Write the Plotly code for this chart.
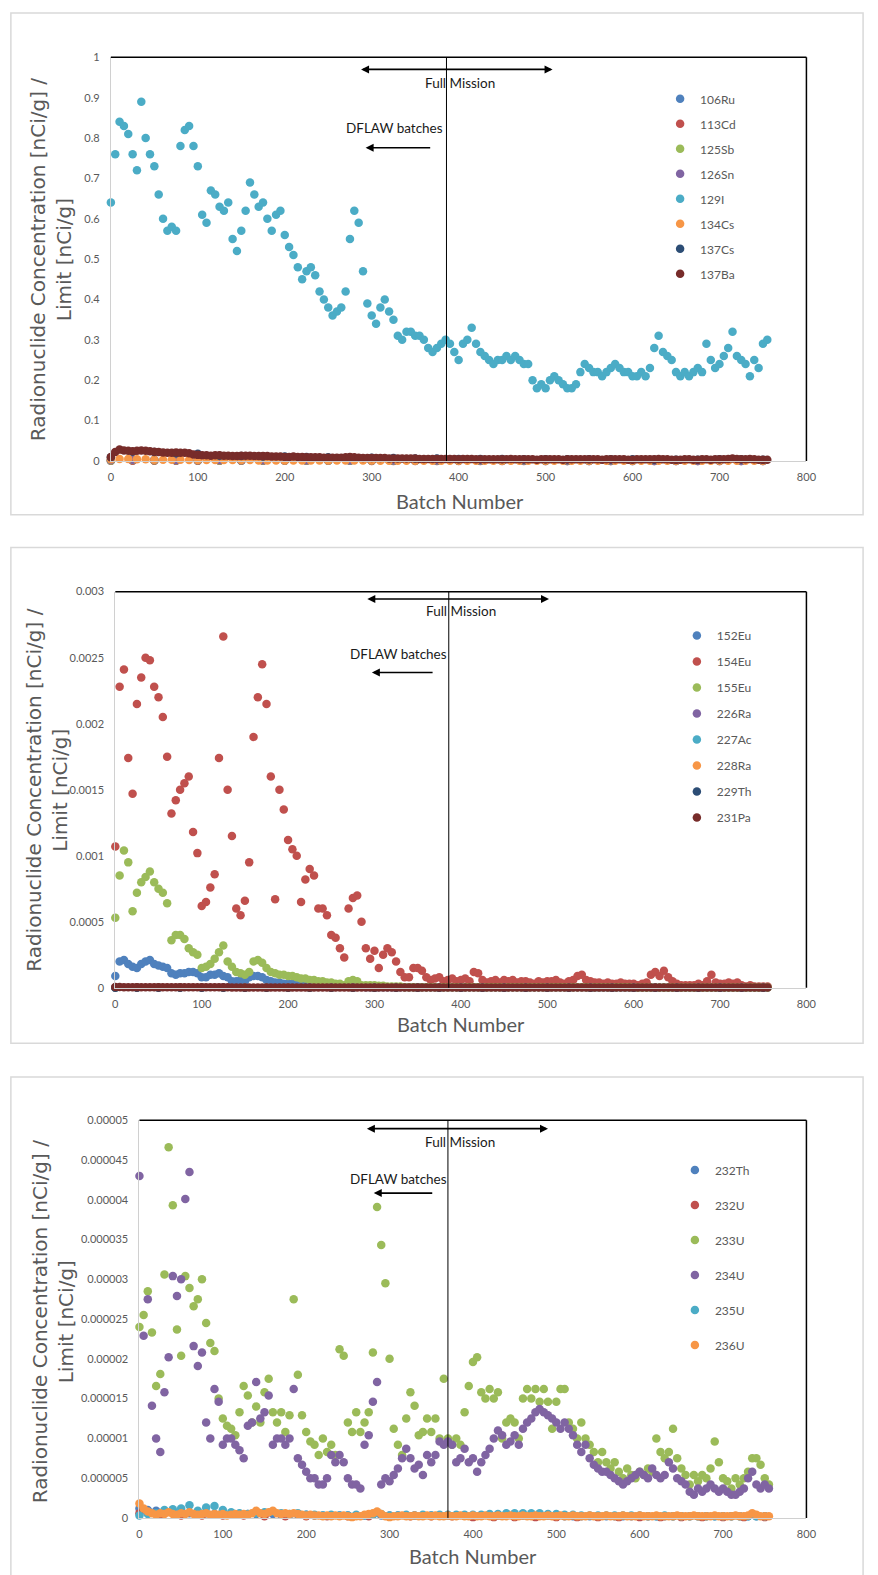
import numpy as np
import plotly.graph_objects as go

W, H = 878, 1575

# ---------------- categories ----------------
BATCH5 = list(range(0, 760, 5))     # 0..755
BATCH10 = list(range(0, 760, 10))   # 0..750
BATCH25 = list(range(0, 760, 25))   # 0..750
X_TICKS = [0, 100, 200, 300, 400, 500, 600, 700, 800]

# ---------------- panel 1 (ratio) ----------------
P1_NAMES = ["106Ru", "113Cd", "125Sb", "126Sn", "129I", "134Cs", "137Cs", "137Ba"]
I129 = [0.64, 0.76, 0.84, 0.83, 0.81, 0.76, 0.72, 0.89, 0.80, 0.76,
        0.73, 0.66, 0.60, 0.57, 0.58, 0.57, 0.78, 0.82, 0.83, 0.78,
        0.73, 0.61, 0.59, 0.67, 0.66, 0.63, 0.62, 0.64, 0.55, 0.52,
        0.57, 0.62, 0.69, 0.66, 0.63, 0.64, 0.60, 0.57, 0.61, 0.62,
        0.56, 0.53, 0.51, 0.48, 0.45, 0.47, 0.48, 0.46, 0.42, 0.40,
        0.38, 0.36, 0.37, 0.38, 0.42, 0.55, 0.62, 0.59, 0.47, 0.39,
        0.36, 0.34, 0.38, 0.40, 0.37, 0.35, 0.31, 0.30, 0.32, 0.32,
        0.31, 0.31, 0.30, 0.28, 0.27, 0.28, 0.29, 0.30, 0.29, 0.27,
        0.25, 0.29, 0.30, 0.33, 0.29, 0.27, 0.26, 0.25, 0.24, 0.25,
        0.25, 0.26, 0.25, 0.26, 0.25, 0.24, 0.24, 0.20, 0.18, 0.19,
        0.18, 0.20, 0.21, 0.20, 0.19, 0.18, 0.18, 0.19, 0.22, 0.24,
        0.23, 0.22, 0.22, 0.21, 0.22, 0.23, 0.24, 0.23, 0.22, 0.22,
        0.21, 0.21, 0.22, 0.21, 0.23, 0.28, 0.31, 0.27, 0.26, 0.25,
        0.22, 0.21, 0.22, 0.21, 0.22, 0.23, 0.22, 0.29, 0.25, 0.23,
        0.24, 0.26, 0.28, 0.32, 0.26, 0.25, 0.24, 0.21, 0.25, 0.23,
        0.29, 0.30]
BA137 = [0.010, 0.022, 0.028, 0.026, 0.025, 0.024, 0.025, 0.026, 0.025, 0.024,
         0.023, 0.022, 0.021, 0.020, 0.020, 0.021, 0.020, 0.020, 0.019, 0.016,
         0.015, 0.014, 0.014, 0.013, 0.014, 0.014, 0.013, 0.013, 0.012, 0.012,
         0.013, 0.013, 0.013, 0.012, 0.012, 0.012, 0.012, 0.011, 0.011, 0.011,
         0.010, 0.010, 0.011, 0.010, 0.010, 0.009, 0.009, 0.009, 0.009, 0.008,
         0.008, 0.008, 0.008, 0.008, 0.009, 0.010, 0.009, 0.008, 0.007, 0.007,
         0.007, 0.007, 0.007, 0.007, 0.006, 0.006, 0.006, 0.006, 0.006, 0.006,
         0.006, 0.005, 0.005, 0.005, 0.005, 0.005, 0.005, 0.005, 0.005, 0.005,
         0.004, 0.005, 0.005, 0.005, 0.004, 0.004, 0.004, 0.004, 0.004, 0.004,
         0.004, 0.004, 0.005, 0.004, 0.004, 0.004, 0.004, 0.004, 0.003, 0.004,
         0.004, 0.004, 0.004, 0.004, 0.003, 0.004, 0.004, 0.004, 0.004, 0.004,
         0.004, 0.004, 0.004, 0.003, 0.004, 0.004, 0.004, 0.004, 0.004, 0.003,
         0.003, 0.004, 0.004, 0.004, 0.004, 0.004, 0.005, 0.004, 0.004, 0.003,
         0.003, 0.003, 0.004, 0.004, 0.003, 0.003, 0.004, 0.004, 0.003, 0.004,
         0.004, 0.004, 0.005, 0.006, 0.005, 0.004, 0.004, 0.005, 0.004, 0.003,
         0.003, 0.003]
CS134 = [0.004, 0.005, 0.005, 0.004, 0.004, 0.003, 0.003, 0.003, 0.003, 0.002,
         0.002, 0.002, 0.002, 0.002, 0.002, 0.002, 0.002, 0.001, 0.001, 0.001,
         0.001, 0.001, 0.001, 0.001, 0.001, 0.001, 0.001, 0.001, 0.001, 0.001,
         0.001, 0.0005, 0.0005, 0.0005, 0.0005, 0.0005, 0.0005, 0.0005, 0.0005, 0.0005,
         0.0005, 0.0005, 0.0005, 0.0005, 0.0005, 0.0005, 0.0005, 0.0005, 0.0005, 0.0005,
         0.0005, 0.0005, 0.0005, 0.0005, 0.0005, 0.0005, 0.0005, 0.0005, 0.0005, 0.0005,
         0.0005, 0.0005, 0.0005, 0.0005, 0.0005, 0.0005, 0.0005, 0.0005, 0.0005, 0.0005,
         0.0005, 0.0005, 0.0005, 0.0005, 0.0005, 0.0005]
RU106 = [0.0006, 0.0009, 0.0008, 0.0007, 0.0006, 0.0005, 0.0005, 0.0004, 0.0004, 0.0004,
         0.0003, 0.0003, 0.0003, 0.0003, 0.0002, 0.0002, 0.0002, 0.0002, 0.0002, 0.0002,
         0.0001, 0.0001, 0.0001, 0.0001, 0.0001, 0.0001, 0.0001, 0.0001, 0.0001, 0.0001, 0.0001]
CD113 = [0.0003, 0.0004, 0.0004, 0.0003, 0.0003, 0.0003, 0.0002, 0.0002, 0.0002, 0.0002,
         0.0002, 0.0002, 0.0001, 0.0001, 0.0001, 0.0001, 0.0001, 0.0001, 0.0001, 0.0001,
         0.0001, 0.0001, 0.0001, 0.0001, 0.0001, 0.0001, 0.0001, 0.0001, 0.0001, 0.0001, 0.0001]
SB125 = [0.0012, 0.0020, 0.0018, 0.0016, 0.0014, 0.0012, 0.0011, 0.0010, 0.0009, 0.0008,
         0.0007, 0.0007, 0.0006, 0.0006, 0.0005, 0.0005, 0.0005, 0.0004, 0.0004, 0.0004,
         0.0004, 0.0003, 0.0003, 0.0003, 0.0003, 0.0003, 0.0003, 0.0003, 0.0003, 0.0003, 0.0003]
SN126 = [0.0020, 0.0030, 0.0028, 0.0025, 0.0022, 0.0020, 0.0018, 0.0016, 0.0015, 0.0014,
         0.0013, 0.0012, 0.0012, 0.0011, 0.0010, 0.0010, 0.0010, 0.0009, 0.0009, 0.0009,
         0.0008, 0.0008, 0.0008, 0.0008, 0.0008, 0.0007, 0.0007, 0.0007, 0.0007, 0.0007, 0.0007]
CS137 = [0.009, 0.023, 0.022, 0.019, 0.018, 0.013, 0.012, 0.011, 0.011, 0.010,
         0.009, 0.008, 0.008, 0.007, 0.006, 0.006, 0.005, 0.005, 0.005, 0.004,
         0.004, 0.004, 0.004, 0.004, 0.004, 0.003, 0.003, 0.003, 0.004, 0.004, 0.003]
P1_TICKS = [0, 0.1, 0.2, 0.3, 0.4, 0.5, 0.6, 0.7, 0.8, 0.9, 1.0]
P1_TICKTEXT = ["0", "0.1", "0.2", "0.3", "0.4", "0.5", "0.6", "0.7", "0.8", "0.9", "1"]

# ---------------- panel 2 (values in units of 1e-4) ----------------
P2_NAMES = ["152Eu", "154Eu", "155Eu", "226Ra", "227Ac", "228Ra", "229Th", "231Pa"]
EU152_E4 = [0.9, 2.0, 2.1, 1.8, 1.6, 1.5, 1.8, 2.0, 2.1, 1.8,
            1.7, 1.6, 1.5, 1.1, 1.0, 1.1, 1.1, 1.2, 1.2, 1.1,
            0.8, 0.8, 1.0, 1.0, 1.1, 0.9, 0.8, 0.5, 0.5, 0.6,
            0.5, 0.8, 0.9, 0.9, 0.8, 0.6, 0.5, 0.4, 0.4, 0.3,
            0.3, 0.3, 0.2, 0.2, 0.2, 0.2, 0.1, 0.1, 0.1, 0.1,
            0.1, 0.1, 0.1, 0.1, 0.1, 0.2, 0.1, 0.1, 0.05, 0.05,
            0.05, 0.05, 0.05, 0.05, 0.05, 0.05, 0.05, 0.05, 0.05, 0.05,
            0.05, 0.05, 0.05, 0.05, 0.05, 0.05, 0.05, 0.05, 0.05, 0.05,
            0.04, 0.04, 0.04, 0.04, 0.04, 0.04, 0.04, 0.04, 0.04, 0.04,
            0.04, 0.04, 0.04, 0.04, 0.04, 0.04, 0.04, 0.04, 0.04, 0.04,
            0.04, 0.04, 0.04, 0.04, 0.04, 0.04, 0.04, 0.04, 0.04, 0.04,
            0.03, 0.03, 0.03, 0.03, 0.03, 0.03, 0.03, 0.03, 0.03, 0.03,
            0.03, 0.03, 0.03, 0.03, 0.03, 0.03, 0.03, 0.03, 0.03, 0.03,
            0.03, 0.03, 0.03, 0.03, 0.03, 0.03, 0.03, 0.03, 0.03, 0.03,
            0.03, 0.03, 0.03, 0.03, 0.03, 0.03, 0.03, 0.03, 0.03, 0.03,
            0.03, 0.03]
EU154_E4 = [10.7, 22.8, 24.1, 17.4, 14.7, 21.5, 23.5, 25.0, 24.8, 22.8,
            22.0, 20.5, 17.5, 13.2, 14.2, 15.0, 15.5, 16.0, 11.8, 10.2,
            6.2, 6.5, 7.6, 8.6, 17.4, 26.6, 15.0, 11.5, 6.0, 5.5,
            6.6, 9.5, 19.0, 22.0, 24.5, 21.5, 16.0, 6.7, 15.0, 13.5,
            11.2, 10.5, 10.0, 6.5, 8.2, 9.0, 8.5, 6.0, 6.0, 5.5,
            4.0, 3.8, 3.0, 2.3, 6.0, 6.8, 7.0, 5.0, 3.0, 2.2,
            2.8, 1.5, 2.5, 3.0, 2.7, 2.0, 1.2, 0.8, 0.8, 1.5,
            1.5, 1.3, 0.8, 0.6, 0.7, 0.8, 0.5, 0.6, 0.7, 0.5,
            0.6, 0.7, 0.5, 1.2, 1.1, 0.6, 0.4, 0.5, 0.6, 0.4,
            0.6, 0.5, 0.6, 0.4, 0.5, 0.5, 0.4, 0.3, 0.5, 0.4,
            0.5, 0.5, 0.6, 0.4, 0.3, 0.5, 0.6, 0.9, 1.0, 0.6,
            0.5, 0.4, 0.4, 0.3, 0.4, 0.3, 0.3, 0.4, 0.3, 0.3,
            0.3, 0.2, 0.3, 0.4, 1.0, 1.2, 0.9, 1.3, 0.8, 0.5,
            0.3, 0.2, 0.2, 0.2, 0.2, 0.3, 0.2, 0.5, 1.0, 0.4,
            0.3, 0.3, 0.4, 0.3, 0.4, 0.2, 0.1, 0.2, 0.1, 0.1,
            0.1, 0.1]
EU155_E4 = [5.3, 8.5, 10.4, 9.5, 5.8, 7.2, 8.0, 8.4, 8.8, 8.0,
            7.5, 7.2, 6.4, 3.6, 4.0, 4.0, 3.7, 3.0, 2.7, 2.5,
            1.5, 1.6, 1.8, 2.2, 2.7, 3.2, 2.0, 1.6, 1.2, 1.1,
            1.0, 1.2, 2.0, 2.1, 1.9, 1.5, 1.2, 1.1, 1.0, 1.0,
            0.9, 0.9, 0.8, 0.7, 0.7, 0.6, 0.6, 0.5, 0.5, 0.4,
            0.4, 0.3, 0.3, 0.2, 0.5, 0.6, 0.5, 0.2, 0.2, 0.2,
            0.2, 0.15, 0.15, 0.1, 0.1, 0.1, 0.1, 0.05, 0.05, 0.05,
            0.05, 0.05, 0.05, 0.05, 0.05, 0.05, 0.05, 0.05, 0.05, 0.05,
            0.05, 0.05, 0.05, 0.05, 0.05, 0.05, 0.05, 0.05, 0.05, 0.05,
            0.04, 0.04, 0.04, 0.04, 0.04, 0.04, 0.04, 0.04, 0.04, 0.04,
            0.04, 0.04, 0.04, 0.04, 0.04, 0.04, 0.04, 0.04, 0.04, 0.04,
            0.04, 0.04, 0.04, 0.04, 0.04, 0.04, 0.04, 0.04, 0.04, 0.04,
            0.03, 0.03, 0.03, 0.03, 0.03, 0.03, 0.03, 0.03, 0.03, 0.03,
            0.03, 0.03, 0.03, 0.03, 0.03, 0.03, 0.03, 0.03, 0.03, 0.03,
            0.03, 0.03, 0.03, 0.03, 0.03, 0.03, 0.03, 0.03, 0.03, 0.03,
            0.03, 0.03]
PA231_E4 = [0.06, 0.06, 0.05, 0.05, 0.05, 0.05, 0.05, 0.05, 0.05, 0.05,
            0.05, 0.04, 0.04, 0.04, 0.04, 0.04, 0.04, 0.04, 0.04, 0.04,
            0.04, 0.04, 0.04, 0.04, 0.04, 0.04, 0.04, 0.03, 0.03, 0.03,
            0.03, 0.03, 0.03, 0.03, 0.03, 0.03, 0.03, 0.03, 0.03, 0.03,
            0.03, 0.03, 0.03, 0.03, 0.03, 0.03, 0.03, 0.03, 0.03, 0.03,
            0.03, 0.03, 0.03, 0.03, 0.03, 0.03, 0.03, 0.03, 0.03, 0.03,
            0.03, 0.03, 0.03, 0.03, 0.03, 0.03, 0.03, 0.03, 0.03, 0.03,
            0.02, 0.02, 0.02, 0.02, 0.02, 0.02, 0.02, 0.02, 0.02, 0.02,
            0.02, 0.02, 0.02, 0.02, 0.02, 0.02, 0.02, 0.02, 0.02, 0.02,
            0.02, 0.02, 0.02, 0.02, 0.02, 0.02, 0.02, 0.02, 0.02, 0.02,
            0.02, 0.02, 0.02, 0.02, 0.02, 0.02, 0.02, 0.02, 0.02, 0.02,
            0.02, 0.02, 0.02, 0.02, 0.02, 0.02, 0.02, 0.02, 0.02, 0.02,
            0.02, 0.02, 0.02, 0.02, 0.02, 0.02, 0.02, 0.02, 0.02, 0.02,
            0.02, 0.02, 0.02, 0.02, 0.02, 0.02, 0.02, 0.02, 0.02, 0.02,
            0.02, 0.02, 0.02, 0.02, 0.02, 0.02, 0.02, 0.02, 0.02, 0.02,
            0.02, 0.02]
RA226_E4 = [0.02, 0.03, 0.03, 0.02, 0.02, 0.02, 0.02, 0.02, 0.02, 0.02,
            0.01, 0.01, 0.01, 0.01, 0.01, 0.01, 0.01, 0.01, 0.01, 0.01,
            0.01, 0.01, 0.01, 0.01, 0.01, 0.01, 0.01, 0.01, 0.01, 0.01, 0.01]
AC227_E4 = [0.01, 0.02, 0.02, 0.02, 0.01, 0.01, 0.01, 0.01, 0.01, 0.01,
            0.01, 0.01, 0.01, 0.01, 0.01, 0.01, 0.01, 0.01, 0.01, 0.01,
            0.01, 0.01, 0.01, 0.01, 0.01, 0.01, 0.01, 0.01, 0.01, 0.01, 0.01]
RA228_E4 = [0.02, 0.02, 0.02, 0.02, 0.02, 0.01, 0.01, 0.01, 0.01, 0.01,
            0.01, 0.01, 0.01, 0.01, 0.01, 0.01, 0.01, 0.01, 0.01, 0.01,
            0.01, 0.01, 0.01, 0.01, 0.01, 0.01, 0.01, 0.01, 0.01, 0.01, 0.01]
TH229_E4 = [0.01, 0.01, 0.01, 0.01, 0.01, 0.01, 0.01, 0.01, 0.01, 0.01,
            0.01, 0.01, 0.01, 0.01, 0.01, 0.01, 0.01, 0.01, 0.01, 0.01,
            0.01, 0.01, 0.01, 0.01, 0.01, 0.01, 0.01, 0.01, 0.01, 0.01, 0.01]
P2_TICKS = [0, 0.0005, 0.001, 0.0015, 0.002, 0.0025, 0.003]
P2_TICKTEXT = ["0", "0.0005", "0.001", "0.0015", "0.002", "0.0025", "0.003"]

# ---------------- panel 3 (values in units of 1e-6) ----------------
P3_NAMES = ["232Th", "232U", "233U", "234U", "235U", "236U"]
U233_E6 = [24, 25.5, 28.5, 23.3, 16.6, 18.1, 30.6, 46.6, 39.3, 23.7,
           20.4, 30.4, 28.9, 26.6, 27.5, 30, 24.5, 22, 21, 15,
           12.5, 11.6, 11.2, 10.4, 13.3, 16.6, 15.4, 12, 14, 12,
           15.8, 17.5, 13.3, 12, 13.3, 10.8, 12.9, 27.5, 18, 12.9,
           10.8, 9.6, 9.2, 7.9, 10, 8.3, 9.2, 7.9, 21.2, 20.4,
           12, 10.8, 13.3, 10.8, 12, 13.3, 20.8, 39.1, 34.3, 29.5,
           20, 11.2, 9.2, 7.9, 12.5, 15.8, 14.1, 10.4, 10.8, 12.5,
           10.8, 12.5, 10, 17.5, 10, 9.2, 10, 9.2, 13.3, 16.6,
           19.6, 20.2, 15.8, 15, 16.2, 15, 15.8, 10, 12, 12.5,
           12, 10, 15, 16.2, 15, 16.2, 14.6, 16.2, 14.6, 11.2,
           14.6, 16.2, 16.2, 12, 11.2, 10, 12, 10, 9.2, 8.3,
           7, 8.3, 7, 6.2, 7, 5.8, 5, 6.2, 5.4, 5,
           5.8, 5.4, 6.2, 5.8, 10, 8.3, 7.5, 8.3, 11.2, 7.5,
           6.2, 5.4, 4.2, 5.4, 4.6, 5.4, 5, 6.2, 9.6, 7,
           5, 4.6, 3.7, 5, 4.2, 5, 5.8, 7.5, 7.5, 6.7,
           5, 4.2]
U234_E6 = [43, 22.9, 27.5, 14.1, 10, 8.3, 15.8, 20.2, 30.4, 27.9,
           30, 40.1, 43.5, 21.6, 19.1, 20.8, 12, 10, 16.2, 14.6,
           9.2, 10, 10, 9.2, 8.5, 7.5, 11.6, 12, 17.1, 12.5,
           13.3, 15.4, 9.2, 10, 10, 9.2, 10, 16.2, 7.5, 6.7,
           5.8, 5, 5, 4.2, 4.2, 5, 7.9, 7, 7.9, 7,
           5, 4.2, 4.2, 3.7, 9.2, 10.4, 14.6, 17.1, 4.2, 5,
           4.6, 5.4, 6.2, 7.5, 8.7, 7.5, 6.2, 6.7, 5.4, 7.9,
           7, 7.9, 9.6, 9.2, 9.6, 9.2, 7, 7.5, 8.7, 7,
           7.5, 5.8, 7, 7.9, 8.7, 10, 11, 10.4, 9.2, 9.6,
           10.4, 9.2, 11.2, 12, 12.5, 13.3, 13.7, 13.3, 12.9, 12.5,
           12, 11.2, 12, 11.2, 10.4, 9.2, 8.3, 9.2, 7.5, 6.7,
           6.2, 5.8, 5.8, 5.4, 5, 4.6, 4.2, 4.6, 5, 5.4,
           5.8, 5.4, 5, 6.2, 5.4, 5, 5.4, 7, 6.2, 5,
           4.6, 4.2, 3.3, 2.9, 3.7, 3.3, 3.7, 4.2, 3.7, 3.3,
           3.7, 3.3, 2.9, 2.9, 3.3, 3.7, 5, 5.8, 4.2, 3.7,
           4.2, 3.7]
U236_E6 = [1.8, 1.2, 0.8, 0.6, 0.4, 0.6, 0.5, 0.7, 0.5, 0.4,
           0.6, 0.5, 0.7, 0.5, 0.4, 0.5, 0.6, 0.4, 0.5, 0.4,
           0.5, 0.3, 0.4, 0.5, 0.4, 0.5, 0.4, 0.6, 0.9, 0.6,
           0.5, 0.7, 0.9, 0.6, 0.5, 0.6, 0.5, 0.6, 0.5, 0.4,
           0.3, 0.4, 0.3, 0.3, 0.2, 0.3, 0.2, 0.3, 0.2, 0.3,
           0.2, 0.1, 0.2, 0.2, 0.4, 0.5, 0.6, 0.8, 0.5, 0.2,
           0.1, 0.2, 0.2, 0.3, 0.2, 0.2, 0.3, 0.2, 0.2, 0.3,
           0.2, 0.3, 0.2, 0.2, 0.3, 0.2, 0.2, 0.3, 0.2, 0.2,
           0.3, 0.2, 0.2, 0.3, 0.2, 0.2, 0.3, 0.2, 0.2, 0.3,
           0.2, 0.2, 0.3, 0.2, 0.2, 0.3, 0.2, 0.2, 0.3, 0.2,
           0.2, 0.3, 0.2, 0.2, 0.3, 0.2, 0.2, 0.2, 0.3, 0.2,
           0.2, 0.2, 0.3, 0.2, 0.2, 0.2, 0.3, 0.2, 0.2, 0.2,
           0.3, 0.2, 0.2, 0.2, 0.3, 0.2, 0.2, 0.2, 0.2, 0.3,
           0.2, 0.2, 0.2, 0.3, 0.2, 0.2, 0.2, 0.2, 0.3, 0.2,
           0.2, 0.2, 0.2, 0.3, 0.2, 0.2, 0.3, 0.6, 0.4, 0.2,
           0.2, 0.2]
U235_E6 = [0.3, 0.5, 0.6, 1.0, 1.1, 1.2, 1.6, 0.9, 1.3, 1.5,
           1.0, 0.7, 0.6, 0.5, 0.6, 0.7, 0.8, 0.6, 0.5, 0.6,
           0.4, 0.4, 0.3, 0.4, 0.3, 0.3, 0.4, 0.3, 0.4, 0.5,
           0.3, 0.3, 0.4, 0.3, 0.4, 0.3, 0.4, 0.4, 0.4, 0.4,
           0.4, 0.4, 0.5, 0.5, 0.6, 0.6, 0.6, 0.6, 0.6, 0.5,
           0.5, 0.4, 0.4, 0.3, 0.3, 0.3, 0.3, 0.3, 0.3, 0.3,
           0.3, 0.2, 0.2, 0.3, 0.2, 0.2, 0.2, 0.2, 0.2, 0.2,
           0.2, 0.2, 0.2, 0.2, 0.2, 0.2]
TH232_E6 = [1.2, 1.0, 0.9, 0.8, 0.7, 0.7, 0.6, 0.6, 0.6, 0.5,
            0.5, 0.5, 0.5, 0.5, 0.5, 0.5, 0.5, 0.4, 0.4, 0.4,
            0.4, 0.3, 0.3, 0.3, 0.3, 0.3, 0.3, 0.3, 0.4, 0.3,
            0.3, 0.3, 0.3, 0.3, 0.3, 0.3, 0.3, 0.3, 0.3, 0.3,
            0.3, 0.3, 0.3, 0.3, 0.3, 0.3, 0.3, 0.3, 0.3, 0.3,
            0.2, 0.2, 0.2, 0.2, 0.2, 0.2, 0.2, 0.2, 0.2, 0.2,
            0.2, 0.2, 0.2, 0.2, 0.2, 0.2, 0.2, 0.2, 0.2, 0.2,
            0.2, 0.2, 0.2, 0.2, 0.2, 0.2]
U232_E6 = [0.6, 0.4, 0.3, 0.3, 0.3, 0.3, 0.2, 0.2, 0.2, 0.2,
           0.2, 0.2, 0.2, 0.2, 0.2, 0.2, 0.1, 0.1, 0.1, 0.1,
           0.1, 0.1, 0.1, 0.1, 0.1, 0.1, 0.1, 0.1, 0.1, 0.1, 0.1]
P3_TICKS = [0, 0.000005, 0.00001, 0.000015, 0.00002, 0.000025, 0.00003,
            0.000035, 0.00004, 0.000045, 0.00005]
P3_TICKTEXT = ["0", "0.000005", "0.00001", "0.000015", "0.00002", "0.000025", "0.00003",
               "0.000035", "0.00004", "0.000045", "0.00005"]

# ---------------- styling ----------------
COL = ["#4F81BD", "#C0504D", "#9BBB59", "#8064A2", "#4BACC6", "#F79646", "#2C4D75", "#772C2A"]
GRAY = "#595959"
FONT = "Lato"
MSIZE = 8.5


def px(x):
    return x / W


def py(y):
    return 1 - y / H


fig = go.Figure()


def add(xv, yv, name, color, ax, leg):
    fig.add_trace(go.Scatter(
        x=xv, y=yv, name=name, mode="markers",
        marker=dict(size=MSIZE, color=color, line=dict(width=0)),
        xaxis=ax[0], yaxis=ax[1], legend=leg, legendgroup=name,
        cliponaxis=False, hoverinfo="skip"))


e4 = 1e-4
e6 = 1e-6
A1, A2, A3 = ("x", "y"), ("x2", "y2"), ("x3", "y3")

# panel 1
p1 = [(BATCH25, RU106), (BATCH25, CD113), (BATCH25, SB125), (BATCH25, SN126),
      (BATCH5, I129), (BATCH10, CS134), (BATCH25, CS137), (BATCH5, BA137)]
for i, (xv, yv) in enumerate(p1):
    add(xv, yv, P1_NAMES[i], COL[i], A1, "legend")

# panel 2
p2 = [(BATCH5, EU152_E4), (BATCH5, EU154_E4), (BATCH5, EU155_E4), (BATCH25, RA226_E4),
      (BATCH25, AC227_E4), (BATCH25, RA228_E4), (BATCH25, TH229_E4), (BATCH5, PA231_E4)]
for i, (xv, yv) in enumerate(p2):
    add(xv, list(np.array(yv) * e4), P2_NAMES[i], COL[i], A2, "legend2")

# panel 3
p3 = [(BATCH10, TH232_E6), (BATCH25, U232_E6), (BATCH5, U233_E6), (BATCH5, U234_E6),
      (BATCH10, U235_E6), (BATCH5, U236_E6)]
for i, (xv, yv) in enumerate(p3):
    add(xv, list(np.array(yv) * e6), P3_NAMES[i], COL[i], A3, "legend3")

# ---------------- axes ----------------
TICKFONT = dict(family=FONT, size=11, color=GRAY)


def xax(left, right, anchor):
    return dict(domain=[px(left), px(right)], range=[0, 800], tickvals=X_TICKS,
                showgrid=False, zeroline=False, showline=True, linecolor="#D0D0D0",
                linewidth=1, ticks="outside", ticklen=6, tickcolor="rgba(0,0,0,0)",
                tickfont=TICKFONT, anchor=anchor, fixedrange=True)


def yax(top, bottom, rng, tv, tt, anchor):
    return dict(domain=[py(bottom), py(top)], range=rng, tickvals=tv, ticktext=tt,
                showgrid=False, zeroline=False, showline=True, linecolor="#D0D0D0",
                linewidth=1, ticks="outside", ticklen=8, tickcolor="rgba(0,0,0,0)",
                tickfont=TICKFONT, anchor=anchor, fixedrange=True)


P1 = dict(l=109.5, r=815.5, t=50.7, b=457.7)
P2 = dict(l=114, r=815.5, t=589.5, b=989)
P3 = dict(l=138.5, r=815.5, t=1122.5, b=1523.5)

layout_axes = dict(
    xaxis=xax(P1["l"], P1["r"], "y"),
    yaxis=yax(P1["t"], P1["b"], [0, 1], P1_TICKS, P1_TICKTEXT, "x"),
    xaxis2=xax(P2["l"], P2["r"], "y2"),
    yaxis2=yax(P2["t"], P2["b"], [0, 0.003], P2_TICKS, P2_TICKTEXT, "x2"),
    xaxis3=xax(P3["l"], P3["r"], "y3"),
    yaxis3=yax(P3["t"], P3["b"], [0, 0.00005], P3_TICKS, P3_TICKTEXT, "x3"),
)

# ---------------- shapes ----------------
shapes = []
for top, bottom in [(6, 512), (545, 1045), (1079, 1600)]:
    shapes.append(dict(type="rect", xref="paper", yref="paper", x0=px(8), x1=px(873),
                       y0=py(bottom), y1=py(top), line=dict(color="#D9D9D9", width=1.5),
                       fillcolor="rgba(0,0,0,0)", layer="below"))
for xa, ya, vline in [("x", "y", 386), ("x2", "y2", 386), ("x3", "y3", 370)]:
    shapes.append(dict(type="line", xref=xa + " domain", yref=ya + " domain",
                       x0=0, x1=1, y0=1, y1=1, line=dict(color="black", width=1.5)))
    shapes.append(dict(type="line", xref=xa + " domain", yref=ya + " domain",
                       x0=1, x1=1, y0=0, y1=1, line=dict(color="black", width=1.5)))
    shapes.append(dict(type="line", xref=xa, yref=ya + " domain",
                       x0=vline, x1=vline, y0=0, y1=1, line=dict(color="black", width=1)))

# ---------------- annotations ----------------
ann = []
YTITLE = "Radionuclide Concentration [nCi/g] /<br>Limit [nCi/g]"
for cx, cy in [(49, 255), (45, 790), (51, 1326)]:
    ann.append(dict(text=YTITLE, x=px(cx), y=py(cy), xref="paper", yref="paper",
                    textangle=-90, showarrow=False, xanchor="center", yanchor="middle",
                    font=dict(family="DejaVu Sans", size=20, color=GRAY)))
for cx, cy in [(464, 498), (465, 1025), (477, 1562)]:
    ann.append(dict(text="Batch Number", x=px(cx), y=py(cy), xref="paper", yref="paper",
                    showarrow=False, xanchor="center", yanchor="middle",
                    font=dict(family=FONT, size=20, color=GRAY)))
for (fx, fy), (dx, dy) in [((464, 77), (397, 122)), ((465, 609), (401, 652)),
                           ((464, 1144), (401, 1182))]:
    ann.append(dict(text="Full Mission", x=px(fx), y=py(fy), xref="paper", yref="paper",
                    showarrow=False, xanchor="center", yanchor="middle",
                    font=dict(family=FONT, size=13.5, color="#1a1a1a")))
    ann.append(dict(text="DFLAW batches", x=px(dx), y=py(dy), xref="paper", yref="paper",
                    showarrow=False, xanchor="center", yanchor="middle",
                    font=dict(family=FONT, size=13.5, color="#1a1a1a")))

# arrows (data coordinates of each panel)
ARROWS = [
    # xa, ya, full mission (x_start, x_end, y), dflaw (x_tail, x_head, y)
    ("x", "y", (286, 508, 0.970), (369, 293, 0.7757)),
    ("x2", "y2", (290, 502, 0.002944), (369, 297, 0.002388)),
    ("x3", "y3", (271, 490, 0.00004894), (353, 281, 0.00004084)),
]
for xa, ya, fm, dfl in ARROWS:
    ann.append(dict(text="", x=fm[1], y=fm[2], ax=fm[0], ay=fm[2], xref=xa, yref=ya,
                    axref=xa, ayref=ya, showarrow=True, arrowhead=2, startarrowhead=2,
                    arrowside="end+start", arrowsize=1, startarrowsize=1,
                    arrowwidth=1.6, arrowcolor="black", standoff=0, startstandoff=0))
    ann.append(dict(text="", x=dfl[1], y=dfl[2], ax=dfl[0], ay=dfl[2], xref=xa, yref=ya,
                    axref=xa, ayref=ya, showarrow=True, arrowhead=2, arrowsize=1,
                    arrowwidth=1.6, arrowcolor="black", standoff=0))

LEGFONT = dict(family=FONT, size=12, color=GRAY)


def leg(left, top, gap):
    return dict(x=px(left), y=py(top), xanchor="left", yanchor="top", font=LEGFONT,
                bgcolor="rgba(0,0,0,0)", tracegroupgap=gap, borderwidth=0)


fig.update_layout(
    width=W, height=H, margin=dict(l=0, r=0, t=0, b=0, pad=0),
    paper_bgcolor="white", plot_bgcolor="white", showlegend=True,
    legend=leg(667, 78, 6), legend2=leg(684, 619, 7), legend3=leg(682, 1158, 16),
    shapes=shapes, annotations=ann, **layout_axes,
)

fig.write_html("out.html")
